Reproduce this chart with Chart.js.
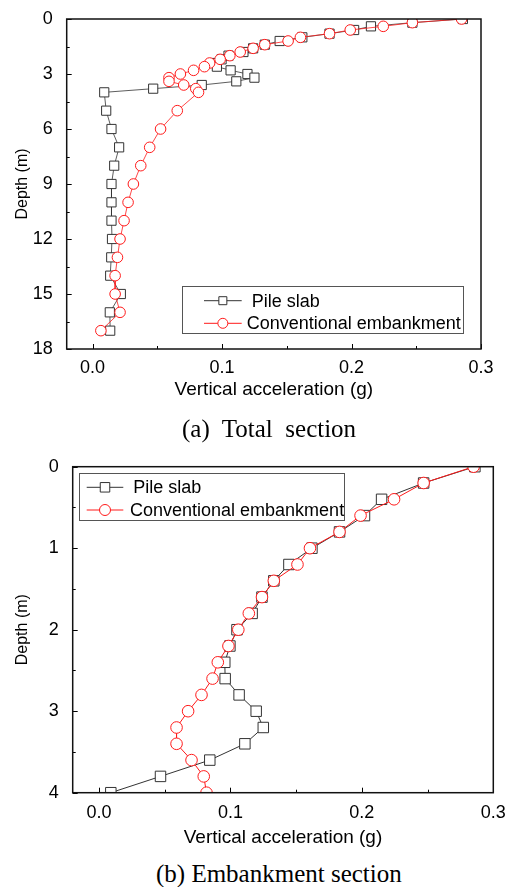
<!DOCTYPE html>
<html><head><meta charset="utf-8">
<script src="https://cdn.jsdelivr.net/npm/chart.js@4"></script>
<style>
html,body{margin:0;padding:0;background:#fff;}
body{width:510px;height:887px;position:relative;overflow:hidden;}
.wrap{position:absolute;left:0;width:510px;height:410px;}
#wa{top:0;}
#wb{top:440px;}
.cap{position:absolute;font-family:"Liberation Serif","Times New Roman",serif;font-size:25px;line-height:25px;white-space:pre;color:#000;z-index:2;}
</style></head><body>
<div class="wrap" id="wa"><canvas id="ca"></canvas></div>
<div class="wrap" id="wb"><canvas id="cb"></canvas></div>
<div class="cap" style="left:182px;top:416px">(a)  Total  section</div>
<div class="cap" style="left:156px;top:861px">(b) Embankment section</div>
<script>
// ---- data ----
const depths = [0,0.2,0.4,0.6,0.8,1.0,1.2,1.4,1.6,1.8,2.0,2.2,2.4,2.6,2.8,3.0,3.2,3.4,3.6,3.8,4.0,5,6,7,8,9,10,11,12,13,14,15,16,17];
const pileSlab = [0.286,0.247,0.215,0.202,0.183,0.162,0.1445,0.133,0.124,0.1165,0.105,0.0996,0.0957,0.096,0.1066,0.1196,0.125,0.111,0.0843,0.0468,0.009,0.0105,0.0146,0.0205,0.0167,0.0146,0.0146,0.0146,0.015,0.0144,0.0136,0.0218,0.0133,0.0136];
const conventional = [0.285,0.247,0.2245,0.199,0.183,0.1605,0.151,0.133,0.124,0.114,0.106,0.0985,0.0904,0.0864,0.078,0.0678,0.059,0.059,0.0704,0.0797,0.0818,0.0654,0.0525,0.0441,0.0372,0.0315,0.0274,0.0243,0.0212,0.0192,0.0174,0.0174,0.0212,0.0064];
const seriesLabels = ['Pile slab','Conventional embankment'];
const xTicks = [0,0.1,0.2,0.3];
const xMinor = [0.05,0.15,0.25];
const yTicksTotal = [0,3,6,9,12,15,18];
const yMinorTotal = [1.5,4.5,7.5,10.5,13.5,16.5];
const yTicksEmb = [0,1,2,3,4];
const yMinorEmb = [0.5,1.5,2.5,3.5];
const embMaxDepth = 4;
const xTitle = 'Vertical acceleration (g)';
const yTitle = 'Depth (m)';

const SANS = '"Liberation Sans", Arial, sans-serif';

function pts(vals, maxD){
  const out = [];
  depths.forEach((d,i)=>{ if (maxD === undefined || d <= maxD + 1e-9) out.push({x: vals[i], y: d}); });
  return out;
}

const framePlugin = {
  id: 'frame',
  afterDraw(chart, args, o) {
    const {ctx, chartArea: a, scales} = chart;
    const xs = scales.x, ys = scales.y;
    ctx.save();
    ctx.strokeStyle = '#000'; ctx.lineWidth = 1;
    const tx = (v,len)=>{ const p = Math.round(xs.getPixelForValue(v))+0.5; ctx.beginPath(); ctx.moveTo(p,a.bottom); ctx.lineTo(p,a.bottom-len); ctx.stroke(); };
    const ty = (v,len)=>{ const p = Math.round(ys.getPixelForValue(v))+0.5; ctx.beginPath(); ctx.moveTo(a.left,p); ctx.lineTo(a.left+len,p); ctx.stroke(); };
    o.xMajor.forEach(v=>tx(v,5)); o.xMinor.forEach(v=>tx(v,3));
    o.yMajor.forEach(v=>ty(v,5)); o.yMinor.forEach(v=>ty(v,3));
    ctx.lineWidth = 1.5; ctx.strokeStyle = '#111';
    ctx.strokeRect(a.left, a.top, a.right-a.left, a.bottom-a.top);
    // legend box
    const L = o.legend;
    ctx.lineWidth = 1; ctx.strokeStyle = '#555';
    ctx.strokeRect(Math.round(L.x)+0.5, Math.round(L.y)+0.5, L.w, L.h);
    chart.data.datasets.forEach((ds,i)=>{
      const cy = L.y + L.rows[i];
      ctx.strokeStyle = ds.borderColor; ctx.lineWidth = 1;
      ctx.beginPath(); ctx.moveTo(L.l1, cy); ctx.lineTo(L.l2, cy); ctx.stroke();
      const mx = (L.l1+L.l2)/2;
      ctx.fillStyle = '#fff'; ctx.strokeStyle = ds.pointBorderColor;
      ctx.beginPath();
      if (ds.pointStyle === 'rect') { const h = L.sq/2; ctx.rect(mx-h, cy-h, L.sq, L.sq); }
      else { ctx.arc(mx, cy, L.cr, 0, Math.PI*2); }
      ctx.fill(); ctx.stroke();
      ctx.fillStyle = '#000'; ctx.font = '18px ' + SANS; ctx.textBaseline = 'middle'; ctx.textAlign = 'left';
      ctx.fillText(ds.label, L.tx + (L.ind[i]||0), cy+1);
    });
    ctx.restore();
  }
};

function makeChart(id, cfg) {
  return new Chart(document.getElementById(id), {
    type: 'scatter',
    data: {
      datasets: [
        { label: seriesLabels[0], data: pts(pileSlab, cfg.maxD), showLine: true,
          borderColor: '#333', borderWidth: cfg.lw, pointStyle: 'rect', pointRadius: cfg.sqR,
          pointBorderColor: '#333', pointBackgroundColor: '#fff', pointBorderWidth: 1, order: 1, clip: 0 },
        { label: seriesLabels[1], data: pts(conventional, cfg.maxD), showLine: true,
          borderColor: '#ff1a1a', borderWidth: cfg.lw, pointStyle: 'circle', pointRadius: cfg.cR,
          pointBorderColor: '#ff1a1a', pointBackgroundColor: '#fff', pointBorderWidth: 1, order: 0, clip: 0 }
      ]
    },
    options: {
      responsive: true, maintainAspectRatio: false, animation: false,
      layout: { padding: cfg.pad },
      plugins: { legend: { display: false }, tooltip: { enabled: false }, frame: cfg.frame },
      scales: {
        x: { type: 'linear', min: -0.02, max: 0.3,
          afterBuildTicks: s => { s.ticks = xTicks.map(v=>({value:v})); },
          grid: { display: false }, border: { display: false },
          ticks: { padding: cfg.xPad, color: '#000', font: { family: SANS, size: 18 }, callback: v => Number(v).toFixed(1) },
          title: { display: true, text: xTitle, color: '#000', font: { family: SANS, size: 19 }, padding: { top: 0, bottom: cfg.xTitlePad } },
          afterFit: s => { s.height = cfg.xH; } },
        y: { type: 'linear', reverse: true, min: 0, max: cfg.yMax,
          afterBuildTicks: s => { s.ticks = cfg.yTicks.map(v=>({value:v})); },
          grid: { display: false }, border: { display: false },
          ticks: { padding: 6, color: '#000', font: { family: SANS, size: 18 } },
          title: { display: true, text: yTitle, color: '#000', font: { family: SANS, size: 16 }, padding: { top: 13, bottom: 0 } },
          afterFit: s => { s.width = cfg.yW; } }
      }
    },
    plugins: [framePlugin]
  });
}

makeChart('ca', {
  maxD: undefined, lw: 0.8, sqR: 6.5, cR: 5.3, yMax: 18, yTicks: yTicksTotal,
  pad: { left: 0, top: 19, right: 29, bottom: 0 }, xPad: 0, xTitlePad: 9, xH: 61, yW: 66.7,
  frame: { xMajor: xTicks, xMinor: xMinor, yMajor: yTicksTotal, yMinor: yMinorTotal,
    legend: { x: 182, y: 286, w: 281, h: 47, rows: [14.7, 37.3], l1: 204, l2: 241.7, tx: 246.7, ind: [5,0], sq: 8, cr: 5 } }
});
makeChart('cb', {
  maxD: embMaxDepth, lw: 1, sqR: 7.4, cR: 5.8, yMax: 4, yTicks: yTicksEmb,
  pad: { left: 0, top: 26.7, right: 16.7, bottom: 0 }, xPad: 2, xTitlePad: 1, xH: 57.3, yW: 72.7,
  frame: { xMajor: xTicks, xMinor: xMinor, yMajor: yTicksEmb, yMinor: yMinorEmb,
    legend: { x: 79.3, y: 33.3, w: 265, h: 47, rows: [14, 36.7], l1: 86.7, l2: 123.3, tx: 130, ind: [3.3,0], sq: 9.5, cr: 5.5 } }
});
</script>
</body></html>
